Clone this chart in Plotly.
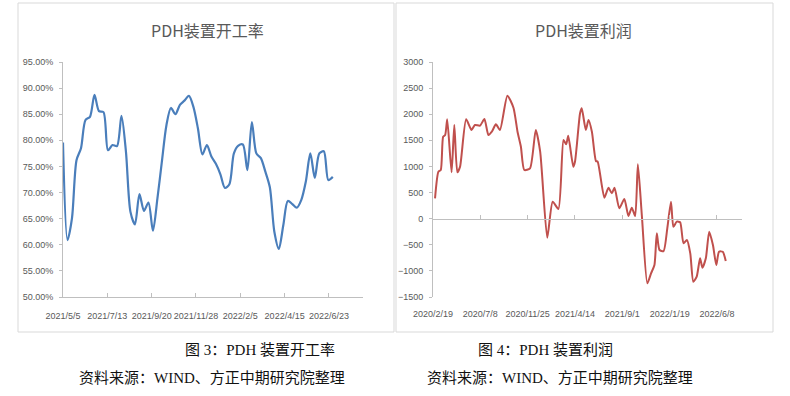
import plotly.graph_objects as go

# ---------------- data ----------------
rate_dates = [
    "2021-05-05", "2021-05-12", "2021-05-19", "2021-05-26", "2021-06-02", "2021-06-09",
    "2021-06-16", "2021-06-23", "2021-06-30", "2021-07-07", "2021-07-14", "2021-07-21",
    "2021-07-28", "2021-08-04", "2021-08-11", "2021-08-18", "2021-08-25", "2021-09-01",
    "2021-09-08", "2021-09-15", "2021-09-22", "2021-09-29", "2021-10-06", "2021-10-13",
    "2021-10-20", "2021-10-27", "2021-11-03", "2021-11-10", "2021-11-17", "2021-11-24",
    "2021-12-01", "2021-12-08", "2021-12-15", "2021-12-22", "2021-12-29", "2022-01-05",
    "2022-01-12", "2022-01-19", "2022-01-26", "2022-02-02", "2022-02-09", "2022-02-16",
    "2022-02-23", "2022-03-02", "2022-03-09", "2022-03-16", "2022-03-23", "2022-03-30",
    "2022-04-06", "2022-04-13", "2022-04-20", "2022-04-27", "2022-05-04", "2022-05-11",
    "2022-05-18", "2022-05-25", "2022-06-01", "2022-06-08", "2022-06-15", "2022-06-22",
    "2022-06-29",
]
rate_values = [
    79.6, 60.9, 65.1, 76.2, 78.5, 83.9, 84.5, 88.7, 85.6, 85.4, 78.1, 79.1,
    78.9, 84.7, 77.8, 66.3, 63.9, 69.7, 66.5, 68.1, 62.7, 68.9, 76.0, 82.9,
    86.2, 85.0, 86.8, 87.6, 88.5, 86.4, 82.3, 77.3, 79.1, 76.9, 75.5, 73.5,
    70.9, 71.6, 77.5, 79.0, 79.2, 74.3, 83.5, 77.5, 76.6, 74.0, 71.0, 62.5,
    59.2, 63.8, 68.4, 67.8, 67.1, 68.6, 72.1, 77.5, 72.8, 77.5, 77.9, 72.4,
    73.0,
]
rate_ticks = ["2021-05-05", "2021-07-13", "2021-09-20", "2021-11-28",
              "2022-02-05", "2022-04-15", "2022-06-23"]
rate_ticklabels = ["2021/5/5", "2021/7/13", "2021/9/20", "2021/11/28",
                   "2022/2/5", "2022/4/15", "2022/6/23"]
rate_xrange = ["2021-05-05", "2022-08-15"]
rate_yrange = [50, 95]

profit_dates = [
    "2020-02-25", "2020-03-06", "2020-03-13", "2020-03-20", "2020-03-26", "2020-04-01",
    "2020-04-14", "2020-04-22", "2020-05-01", "2020-05-09", "2020-05-27", "2020-06-12",
    "2020-06-22", "2020-07-07", "2020-07-20", "2020-08-01", "2020-08-11", "2020-08-23",
    "2020-09-04", "2020-09-26", "2020-10-14", "2020-10-26", "2020-11-05", "2020-11-15",
    "2020-12-02", "2020-12-19", "2021-01-01", "2021-01-22", "2021-02-07", "2021-02-24",
    "2021-03-11", "2021-03-19", "2021-03-25", "2021-04-09", "2021-04-14", "2021-04-19",
    "2021-04-29", "2021-05-04", "2021-05-16", "2021-05-24", "2021-06-03", "2021-06-15",
    "2021-06-20", "2021-07-10", "2021-07-22", "2021-08-01", "2021-08-09", "2021-08-23",
    "2021-09-07", "2021-09-19", "2021-09-29", "2021-10-09", "2021-10-17", "2021-10-29",
    "2021-11-14", "2021-11-25", "2021-12-05", "2021-12-12", "2021-12-20", "2022-01-01",
    "2022-01-12", "2022-01-23", "2022-01-30", "2022-02-09", "2022-02-19", "2022-03-01",
    "2022-03-11", "2022-03-21", "2022-03-30", "2022-04-09", "2022-04-19", "2022-04-26",
    "2022-05-06", "2022-05-16", "2022-05-27", "2022-06-06", "2022-06-14", "2022-06-25",
    "2022-07-04",
]
profit_values = [
    390, 900, 932, 1570, 1602, 1903,
    888, 1794, 888, 995, 1903, 1698,
    1794, 1780, 1908, 1602, 1665, 1807,
    1698, 2355, 2125, 1665, 1378, 932,
    964, 1698, 1282, -365, 325, 185,
    1506, 1424, 1589, 995, 1091, 1378,
    2017, 2113, 1698, 1889, 1665, 1104,
    1091, 401, 593, 486, 593, 198,
    377, 51, 210, 51, 1041, 38,
    -1238, -1046, -888, -280, -600, -620,
    -185, 325, -154, -58, -70, -472,
    -409, -664, -1207, -1111, -760, -939,
    -760, -250, -505, -888, -633, -633,
    -811,
]
profit_ticks = ["2020-02-19", "2020-07-08", "2020-11-25", "2021-04-14",
                "2021-09-01", "2022-01-19", "2022-06-08"]
profit_ticklabels = ["2020/2/19", "2020/7/8", "2020/11/25", "2021/4/14",
                     "2021/9/1", "2022/1/19", "2022/6/8"]
profit_xrange = ["2020-02-19", "2022-08-21"]
profit_yrange = [-1500, 3000]

titles = ["PDH装置开工率", "PDH装置利润"]
captions = ["图 3：PDH 装置开工率", "图 4：PDH 装置利润"]
source = "资料来源：WIND、方正中期研究院整理"

# ---------------- style ----------------
W, H = 790, 396
tick_font = dict(family="Liberation Sans Narrow, Arial Narrow, Liberation Sans, sans-serif", size=9, color="#595959")
axis_col = "#bfbfbf"
cjk = "Noto Sans CJK SC"

y_dom = [1 - 297 / H, 1 - 62 / H]
x1_dom = [63 / W, 363 / W]
x2_dom = [433 / W, 742 / W]

fig = go.Figure()
fig.add_trace(go.Scatter(
    x=rate_dates, y=rate_values, mode="lines", xaxis="x", yaxis="y",
    line=dict(color="#4a7ebb", width=2.2, shape="spline", smoothing=0.8),
    showlegend=False, hoverinfo="skip"))
fig.add_trace(go.Scatter(
    x=profit_dates, y=profit_values, mode="lines", xaxis="x2", yaxis="y2",
    line=dict(color="#c0504d", width=2.0, shape="spline", smoothing=0.6),
    showlegend=False, hoverinfo="skip"))

zero_pos = y_dom[0] + (0 - profit_yrange[0]) / (profit_yrange[1] - profit_yrange[0]) * (y_dom[1] - y_dom[0])

fig.update_layout(
    width=W, height=H, margin=dict(l=0, r=0, t=0, b=0),
    paper_bgcolor="white", plot_bgcolor="white",
    xaxis=dict(domain=x1_dom, anchor="y", type="date", range=rate_xrange, automargin=False,
               tickvals=rate_ticks, ticktext=rate_ticklabels, tickfont=tick_font, tickangle=0,
               ticklabelstandoff=10,
               showgrid=False, zeroline=False, showline=True, linecolor=axis_col, linewidth=1,
               ticks="inside", ticklen=4, tickcolor=axis_col),
    yaxis=dict(domain=y_dom, anchor="x", range=rate_yrange, dtick=5, tickformat=".2f", ticksuffix="%",
               automargin=False, tickfont=tick_font, ticklabelstandoff=4,
               showgrid=False, zeroline=False, showline=True,
               linecolor=axis_col, linewidth=1, ticks="outside", ticklen=3, tickcolor=axis_col),
    xaxis2=dict(domain=x2_dom, anchor="y2", type="date", range=profit_xrange, automargin=False,
                tickvals=profit_ticks, ticktext=profit_ticklabels, tickfont=tick_font, tickangle=0,
                ticklabelstandoff=10,
                showgrid=False, zeroline=False, showline=False, ticks=""),
    xaxis3=dict(domain=x2_dom, anchor="free", position=zero_pos, overlaying="x2", type="date",
                range=profit_xrange, tickvals=profit_ticks, showticklabels=False, automargin=False,
                showgrid=False, zeroline=False, showline=True, linecolor=axis_col, linewidth=1.3,
                ticks="inside", ticklen=4, tickcolor=axis_col),
    yaxis2=dict(domain=y_dom, anchor="x2", range=profit_yrange, dtick=500, automargin=False,
                tickfont=tick_font, ticklabelstandoff=4,
                showgrid=False, zeroline=False, showline=True,
                linecolor=axis_col, linewidth=1, ticks="outside", ticklen=3, tickcolor=axis_col),
)
# invisible trace to activate xaxis3
fig.add_trace(go.Scatter(x=[profit_ticks[0]], y=[0], xaxis="x3", yaxis="y2", mode="markers",
                         marker=dict(opacity=0), showlegend=False, hoverinfo="skip"))

# panel borders
for x0, x1 in [(18, 394), (396, 773)]:
    fig.add_shape(type="rect", xref="paper", yref="paper",
                  x0=x0 / W, x1=x1 / W, y0=1 - 332 / H, y1=1 - 3 / H,
                  line=dict(color="#d9d9d9", width=1), fillcolor="rgba(0,0,0,0)", layer="below")

# titles
for cx, t in [(207, titles[0]), (583, titles[1])]:
    fig.add_annotation(x=cx / W, y=1 - 30 / H, xref="paper", yref="paper", text=t, showarrow=False,
                       font=dict(family=cjk, size=16, color="#595959"), xanchor="center", yanchor="middle")

# captions
for cx, t in [(260, captions[0]), (545, captions[1])]:
    fig.add_annotation(x=cx / W, y=1 - 350 / H, xref="paper", yref="paper", text=t, showarrow=False,
                       font=dict(family="Liberation Serif, " + cjk, size=15, color="#111111"),
                       xanchor="center", yanchor="middle")
for cx in [212, 560]:
    fig.add_annotation(x=cx / W, y=1 - 377 / H, xref="paper", yref="paper", text=source, showarrow=False,
                       font=dict(family="Liberation Serif, " + cjk, size=15, color="#111111"),
                       xanchor="center", yanchor="middle")

fig.write_html("out.html", config={"displayModeBar": False},
               post_script="document.body.style.margin='0';document.body.style.overflow='hidden';")
